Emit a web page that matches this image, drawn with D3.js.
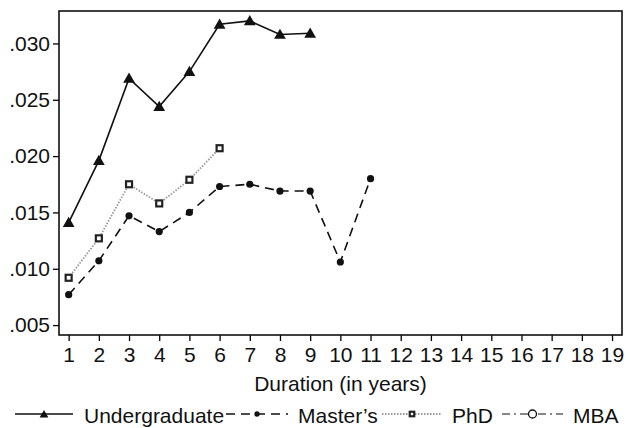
<!DOCTYPE html>
<html>
<head>
<meta charset="utf-8">
<script src="https://cdn.jsdelivr.net/npm/d3@7"></script>
<style>
  body { margin: 0; background: #fff; }
  svg { display: block; font-family: "Liberation Sans", Arial, sans-serif; }
</style>
</head>
<body>
<svg width="630" height="428"></svg>
<script>
// data
var years = [1, 2, 3, 4, 5, 6, 7, 8, 9, 10, 11, 12, 13, 14, 15, 16, 17, 18, 19];
var undergrad = [0.0141, 0.0196, 0.0269, 0.0244, 0.0275, 0.0317, 0.0320, 0.0308, 0.0309];
var masters = [0.0077, 0.0107, 0.0147, 0.0133, 0.0150, 0.0173, 0.0175, 0.0169, 0.0169, 0.0106, 0.0180];
var phd = [0.0092, 0.0127, 0.0175, 0.0158, 0.0179, 0.0207];
var mba = [];
var yTicks = [0.005, 0.010, 0.015, 0.020, 0.025, 0.030];

function main() {
  var svg = d3.select("svg"),
      margin = {top: 11, right: 8, bottom: 93, left: 59},
      width = 630 - margin.left - margin.right,
      height = 428 - margin.top - margin.bottom;

  var g = svg.append("g")
    .attr("transform", `translate(${margin.left},${margin.top})`);

  var x = d3.scaleLinear().domain([0.68, 19.33]).range([0, width]);
  var y = d3.scaleLinear().domain([0.00412, 0.03288]).range([height, 0]);

  // X axis
  var xa = g.append("g")
    .attr("transform", `translate(0,${height})`)
    .call(d3.axisBottom(x).tickValues(years).tickFormat(d3.format("d")).tickSize(6).tickPadding(6));
  xa.select(".domain").remove();
  xa.selectAll("line").attr("stroke", "#000").attr("stroke-width", 1.3);
  xa.selectAll("text").attr("font-size", 21).attr("fill", "#111");

  // Y axis
  var ya = g.append("g")
    .call(d3.axisLeft(y).tickValues(yTicks).tickFormat(d => d3.format(".3f")(d).replace(/^0/, "")).tickSize(6).tickPadding(3));
  ya.select(".domain").remove();
  ya.selectAll("line").attr("stroke", "#000").attr("stroke-width", 1.3);
  ya.selectAll("text").attr("font-size", 21).attr("fill", "#111");

  // frame
  g.append("rect")
    .attr("width", width).attr("height", height)
    .attr("fill", "none").attr("stroke", "#111").attr("stroke-width", 1.6);

  g.append("text")
    .attr("x", width / 2).attr("y", height + 56)
    .attr("text-anchor", "middle")
    .attr("font-size", 21).attr("fill", "#111")
    .text("Duration (in years)");

  var line = d3.line().x((d, i) => x(years[i])).y(d => y(d));

  var series = [
    {name: "Undergraduate", vals: undergrad, dash: null, color: "#111", width: 1.6, marker: "triangle"},
    {name: "Master\u2019s", vals: masters, dash: "9,6", color: "#111", width: 1.6, marker: "circle"},
    {name: "PhD", vals: phd, dash: "1.5,1.5", color: "#999", width: 1.8, marker: "square"},
    {name: "MBA", vals: mba, dash: "8,4,2,4", color: "#111", width: 1.2, marker: "hollow"}
  ];

  function drawMarker(sel, type, cx, cy, big) {
    var s = big ? 1 : 0.75;
    if (type === "triangle") {
      sel.append("path")
        .attr("d", d3.symbol().type(d3.symbolTriangle).size(60 * s * s)())
        .attr("transform", `translate(${cx},${cy + 1})`)
        .attr("fill", "#111");
    } else if (type === "circle") {
      sel.append("circle").attr("cx", cx).attr("cy", cy).attr("r", 3.6 * s).attr("fill", "#111");
    } else if (type === "square") {
      sel.append("rect")
        .attr("x", cx - 3 * s).attr("y", cy - 3 * s)
        .attr("width", 6 * s).attr("height", 6 * s)
        .attr("fill", "#fff").attr("stroke", "#222").attr("stroke-width", 2.2);
    } else {
      sel.append("circle").attr("cx", cx).attr("cy", cy).attr("r", 4)
        .attr("fill", "#fff").attr("stroke", "#111").attr("stroke-width", 1.3);
    }
  }

  series.forEach(function(s) {
    if (!s.vals.length) return;
    g.append("path")
      .datum(s.vals)
      .attr("d", line)
      .attr("fill", "none")
      .attr("stroke", s.color)
      .attr("stroke-width", s.width)
      .attr("stroke-dasharray", s.dash);
    s.vals.forEach(function(v, i) {
      drawMarker(g, s.marker, x(years[i]), y(v), true);
    });
  });

  // legend
  var legend = [
    {x0: 15, x1: 73, tx: 84},
    {x0: 226, x1: 288, tx: 298},
    {x0: 382, x1: 442, tx: 452},
    {x0: 502, x1: 563, tx: 573}
  ];
  var ly = 414;
  series.forEach(function(s, i) {
    var L = legend[i];
    svg.append("line")
      .attr("x1", L.x0).attr("x2", L.x1).attr("y1", ly).attr("y2", ly)
      .attr("stroke", s.color).attr("stroke-width", s.width)
      .attr("stroke-dasharray", s.dash);
    drawMarker(svg, s.marker, (L.x0 + L.x1) / 2, ly, false);
    svg.append("text")
      .attr("x", L.tx).attr("y", ly + 9)
      .attr("font-size", 21).attr("fill", "#111")
      .text(s.name);
  });
}
main();
</script>
</body>
</html>
